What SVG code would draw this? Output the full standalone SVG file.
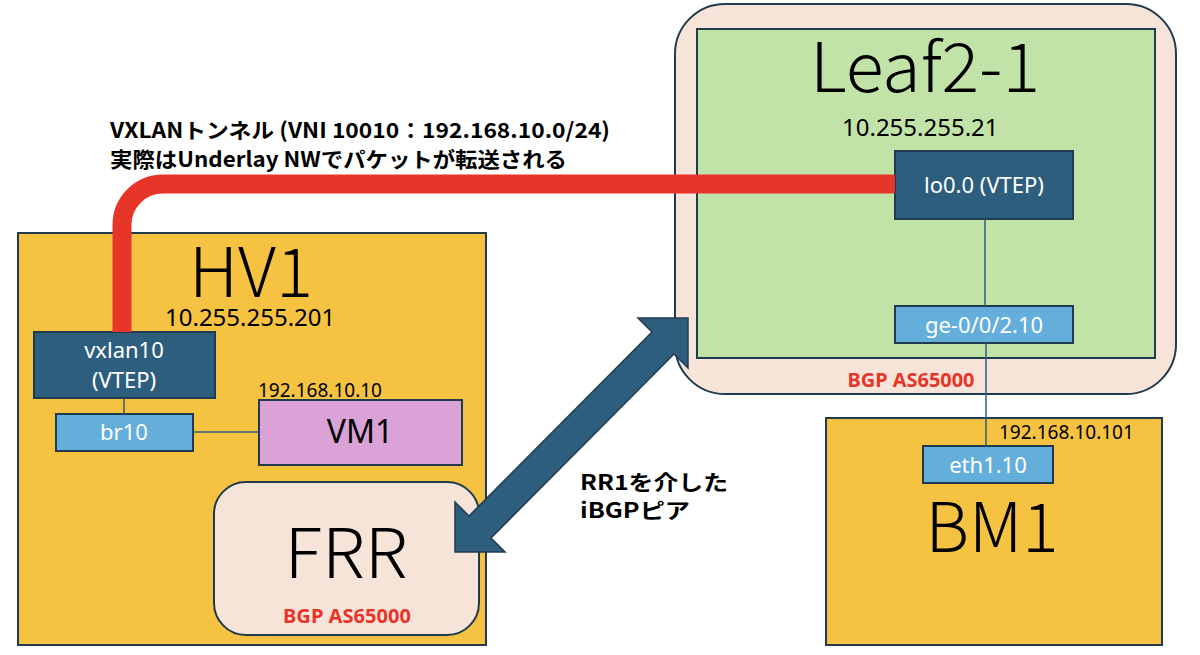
<svg xmlns="http://www.w3.org/2000/svg" width="1200" height="655" viewBox="0 0 1200 655">
<style>
.host{fill:#f5c242;stroke:#1f3b4d;stroke-width:2}
.peach{fill:#f6e4d8;stroke:#1f3b4d;stroke-width:2}
.green{fill:#c1e3a8;stroke:#1f3b4d;stroke-width:2}
.dark{fill:#2e5e7e;stroke:#1f3b4d;stroke-width:2}
.light{fill:#64aedb;stroke:#1f3b4d;stroke-width:2}
.vm{fill:#dba2d8;stroke:#1f3b4d;stroke-width:2}
text{font-family:"Noto Sans","Noto Sans CJK JP",sans-serif;fill:#000}
.big{font-size:68px;text-anchor:middle;font-family:"Noto Sans CJK JP","Noto Sans",sans-serif;font-weight:300}
.ip{font-size:24px}
.ips{font-size:19px}
.w{fill:#fff;font-size:22px;text-anchor:middle}
.bgp{fill:#e8352a;font-size:19px;font-weight:bold;text-anchor:middle}
.note{font-size:21px;font-weight:bold;font-family:"Noto Sans CJK JP","Noto Sans",sans-serif}
.link{stroke:#2e5e7e;stroke-width:1.5;fill:none}
</style>
<g id="HV1">
<rect class="host" x="18" y="233" width="468" height="412"/>
<text class="big" x="251" y="297" textLength="124" lengthAdjust="spacingAndGlyphs">HV1</text>
<text class="ip" x="165" y="326">10.255.255.201</text>
</g>
<g id="vxlan10">
<rect class="dark" x="34" y="332" width="181" height="66"/>
<text class="w" x="124" y="358">vxlan10</text>
<text class="w" x="124" y="388">(VTEP)</text>
</g>
<g id="br10">
<rect class="light" x="56" y="414" width="137" height="37"/>
<text class="w" x="124" y="440">br10</text>
</g>
<g id="VM1">
<text class="ips" x="258" y="397">192.168.10.10</text>
<rect class="vm" x="259" y="400" width="203" height="65"/>
<text x="360" y="443" style="font-size:32px;text-anchor:middle">VM1</text>
</g>
<g id="FRR">
<rect class="peach" x="214" y="482" width="265" height="153" rx="32"/>
<text class="big" x="346" y="578" textLength="123" lengthAdjust="spacingAndGlyphs">FRR</text>
<text class="bgp" x="347" y="623" textLength="128" lengthAdjust="spacingAndGlyphs">BGP AS65000</text>
</g>
<g id="BM1">
<rect class="host" x="826" y="418" width="336" height="227"/>
<text class="ips" x="999" y="439">192.168.10.101</text>
<text class="big" x="992" y="552" textLength="133" lengthAdjust="spacingAndGlyphs">BM1</text>
</g>
<g id="eth1.10">
<rect class="light" x="923" y="446" width="130" height="37"/>
<text class="w" x="988" y="473">eth1.10</text>
</g>
<g id="Leaf2-1">
<rect class="peach" x="675" y="4" width="501" height="390" rx="50"/>
<rect class="green" x="697" y="29" width="458" height="329"/>
<text class="big" x="925" y="92" textLength="230" lengthAdjust="spacingAndGlyphs">Leaf2-1</text>
<text class="ip" x="842" y="136">10.255.255.21</text>
<text class="bgp" x="911" y="387" textLength="127" lengthAdjust="spacingAndGlyphs">BGP AS65000</text>
</g>
<g id="lo0.0">
<rect class="dark" x="895" y="151" width="178" height="68"/>
<text class="w" x="984" y="193">lo0.0 (VTEP)</text>
</g>
<g id="ge-0-0-2.10">
<rect class="light" x="895" y="306" width="178" height="37"/>
<text class="w" x="984" y="333">ge-0/0/2.10</text>
</g>
<g id="connectors">
<line class="link" x1="124" y1="398" x2="124" y2="414"/>
<line class="link" x1="193" y1="432" x2="259" y2="432"/>
<line class="link" x1="985" y1="219" x2="985" y2="306"/>
<line class="link" x1="986" y1="343" x2="986" y2="446"/>
<path d="M122 332 V225 A41 41 0 0 1 163 184 H895" fill="none" stroke="#e8352a" stroke-width="19"/>
<polygon points="688,318 638,318 652,332 469,516 455,502 455,552 505,552 491,538 674,354 688,368" fill="#2e5e7e" stroke="#1f3b4d" stroke-width="1.5"/>
</g>
<g id="labels">
<text class="note" x="110" y="138" textLength="500" lengthAdjust="spacingAndGlyphs">VXLANトンネル (VNI 10010：192.168.10.0/24)</text>
<text class="note" x="110" y="167" textLength="457" lengthAdjust="spacingAndGlyphs">実際はUnderlay NWでパケットが転送される</text>
<text class="note" x="580" y="490" textLength="148" lengthAdjust="spacingAndGlyphs">RR1を介した</text>
<text class="note" x="580" y="518" textLength="110" lengthAdjust="spacingAndGlyphs">iBGPピア</text>
</g>
</svg>
